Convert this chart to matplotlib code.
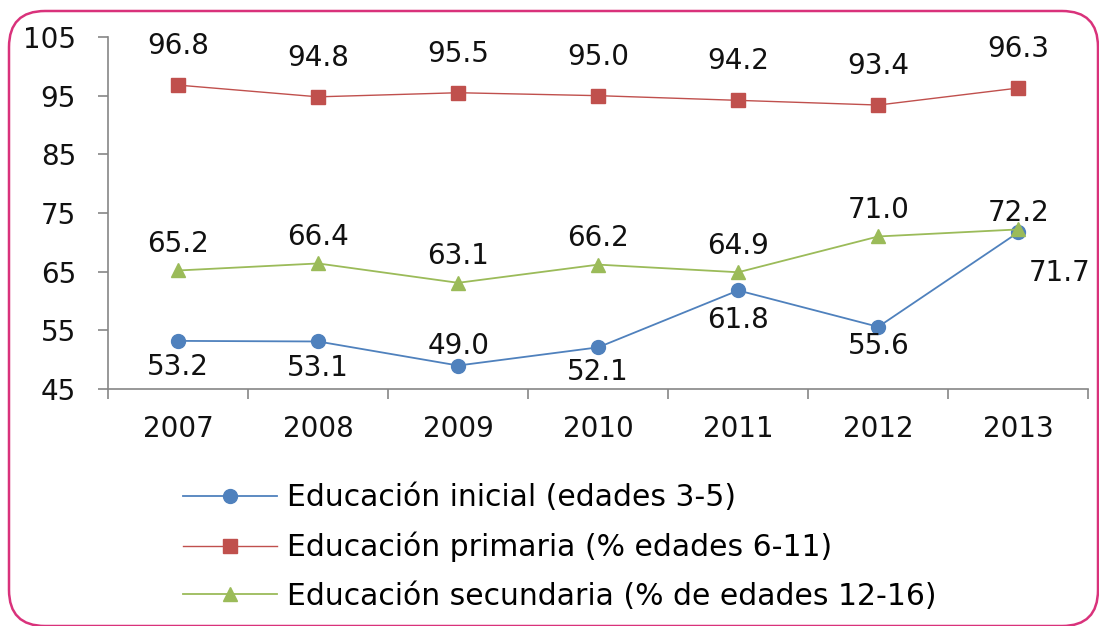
import matplotlib
matplotlib.use("Agg")
import matplotlib.pyplot as plt
from matplotlib.patches import FancyBboxPatch
from matplotlib.transforms import IdentityTransform

years = ["2007", "2008", "2009", "2010", "2011", "2012", "2013"]
inicial = [53.2, 53.1, 49.0, 52.1, 61.8, 55.6, 71.7]
primaria = [96.8, 94.8, 95.5, 95.0, 94.2, 93.4, 96.3]
secundaria = [65.2, 66.4, 63.1, 66.2, 64.9, 71.0, 72.2]

names = ["Educación inicial (edades 3-5)",
         "Educación primaria (% edades 6-11)",
         "Educación secundaria (% de edades 12-16)"]

plt.rcParams['font.family'] = ['DejaVu Sans']
FS = 20
axis_grey = "#868686"

fig = plt.figure(figsize=(10.99, 6.26), dpi=100)
ax = fig.add_axes([0.0983, 0.3786, 0.892, 0.5623])

x = list(range(len(years)))
l1, = ax.plot(x, inicial, color="#4F81BD", lw=1.3, marker="o", ms=10, zorder=3)
l2, = ax.plot(x, primaria, color="#C0504D", lw=1.0, marker="s", ms=9.5, zorder=3)
l3, = ax.plot(x, secundaria, color="#9BBB59", lw=1.3, marker="^", ms=10, zorder=3)

# data labels, offsets in points
off_ini = [(0, -19), (0, -19), (0, 14), (0, -18), (0, -21), (0, -14), (30, -29)]
off_pri = [(0, 28)] * 7
off_sec = [(0, 19)] * 6 + [(0, 12)]
for vals, offs in [(inicial, off_ini), (primaria, off_pri), (secundaria, off_sec)]:
    for i, v in enumerate(vals):
        ax.annotate(f"{v:.1f}", (i, v), xytext=offs[i], textcoords="offset points",
                    ha="center", va="center", fontsize=FS, color="#111111", zorder=4)

ax.set_xlim(-0.5, 6.5)
ax.set_ylim(45, 105)
ax.set_yticks(range(45, 106, 10))
ax.set_xticks([i - 0.5 for i in range(8)])
ax.set_xticklabels([])
ax.set_xticks(x, minor=True)
ax.set_xticklabels(years, minor=True)
ax.tick_params(axis="x", which="major", length=7, width=1.2, color=axis_grey, direction="out")
ax.tick_params(axis="x", which="minor", length=0, pad=19, labelsize=FS, labelcolor="#111111")
ax.tick_params(axis="y", length=7, width=1.2, color=axis_grey, pad=16,
               labelsize=FS, labelcolor="#111111")
for s in ["top", "right"]:
    ax.spines[s].set_visible(False)
for s in ["left", "bottom"]:
    ax.spines[s].set_color(axis_grey)
    ax.spines[s].set_linewidth(1.2)

fig.legend([l1, l2, l3], names, loc="upper left", bbox_to_anchor=(0.1665, 0.228),
           frameon=False, fontsize=21.5, handlelength=3.15, handletextpad=0.33,
           labelspacing=0.65, borderpad=0, borderaxespad=0)

# rounded pink frame around the chart
frame = FancyBboxPatch((9, 0), 1089, 615, boxstyle="round,pad=0,rounding_size=36",
                       transform=IdentityTransform(), fill=False,
                       edgecolor="#D9327B", linewidth=1.8)
fig.add_artist(frame)

fig.savefig("out.png", dpi=100)
